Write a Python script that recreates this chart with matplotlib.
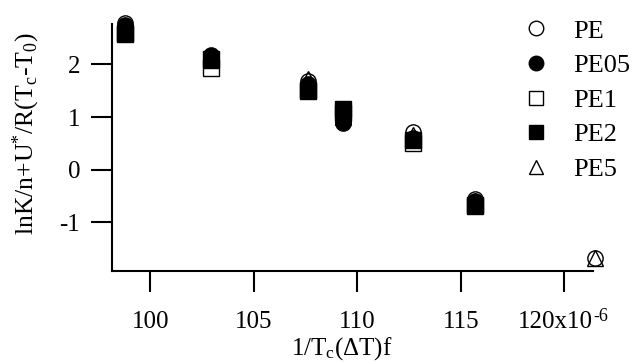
import matplotlib
matplotlib.use("Agg")
import matplotlib.pyplot as plt
from matplotlib.transforms import ScaledTranslation

plt.rcParams['font.family'] = ['Liberation Serif', 'DejaVu Serif']
plt.rcParams['mathtext.fontset'] = 'custom'
plt.rcParams['mathtext.rm'] = 'Liberation Serif'
plt.rcParams['mathtext.it'] = 'Liberation Serif'

# x values in units of 1e-6
x_all = [98.76, 102.95, 107.6, 109.3, 112.7, 115.7, 121.5]
x_six = x_all[:6]

pe = [2.78, 2.12, 1.68, 0.93, 0.71, -0.56, -1.68]
pe05 = [2.75, 2.18, 1.62, 0.89, 0.60, -0.60]
pe1 = [2.58, 1.93, 1.50, 1.08, 0.51, -0.67]
pe2 = [2.60, 2.10, 1.52, 1.15, 0.57, -0.70]
pe5 = [2.70, 2.08, 1.72, 1.00, 0.65, -0.60, -1.68]

xticks = [100, 105, 110, 115, 120]
xticklabels = ['100', '105', '110', '115', '120x10']
yticks = [-1, 0, 1, 2]

fig = plt.figure(figsize=(6.35, 3.62), dpi=100)
ax = fig.add_axes([0.1764, 0.2514, 0.7575, 0.6823])

ms = 11
common = dict(linestyle='none', markersize=ms, markeredgecolor='black',
              markeredgewidth=1.0, clip_on=False)
ax.plot(x_all, pe, marker='o', markerfacecolor='none', label='PE', **common)
ax.plot(x_six, pe05, marker='o', markerfacecolor='black', label='PE05', **common)
ax.plot(x_six, pe1, marker='s', markerfacecolor='none', label='PE1', **common)
ax.plot(x_six, pe2, marker='s', markerfacecolor='black', label='PE2', **common)
ax.plot(x_all, pe5, marker='^', markerfacecolor='none', label='PE5', **common)

ax.set_xlim(98.14, 121.4)
ax.set_ylim(-1.93, 2.77)

for s in ['top', 'right']:
    ax.spines[s].set_visible(False)
for s in ['left', 'bottom']:
    ax.spines[s].set_linewidth(1.5)

ax.set_xticks(xticks)
ax.set_xticklabels(xticklabels)
ax.set_yticks(yticks)
ax.set_yticklabels(['-1', '0', '1', '2'])
ax.tick_params(axis='both', direction='out', length=15, width=1.5,
               labelsize=18)
ax.tick_params(axis='x', pad=26)
ax.tick_params(axis='y', pad=8)
for lbl in ax.get_xticklabels():
    lbl.set_va('baseline')

# last label is centred together with its exponent
last = ax.get_xticklabels()[-1]
last.set_transform(last.get_transform() + ScaledTranslation(-9 / 100, 0, fig.dpi_scale_trans))
ax.annotate('-6', xy=(1, 1), xycoords=last, xytext=(0.5, -4),
            textcoords='offset points', fontsize=13, ha='left', va='center')

ax.set_xlabel(r'1/T$_{\mathrm{c}}$($\mathrm{\Delta}$T)f', fontsize=18)
ax.xaxis.set_label_coords(0.478, -0.259)
ax.set_ylabel(r'lnK/n+U$^{*}$/R(T$_{\mathrm{c}}$-T$_{\mathrm{0}}$)', fontsize=18.5)
ax.yaxis.set_label_coords(-0.145, 0.555)

ax.legend(loc='upper left', bbox_to_anchor=(0.823, 0.947),
          bbox_transform=fig.transFigure, frameon=False, fontsize=19,
          handlelength=1.0, handletextpad=0.9, labelspacing=0.42,
          borderaxespad=0, borderpad=0, numpoints=1, markerscale=0.95)

fig.savefig('out.png', dpi=100)
